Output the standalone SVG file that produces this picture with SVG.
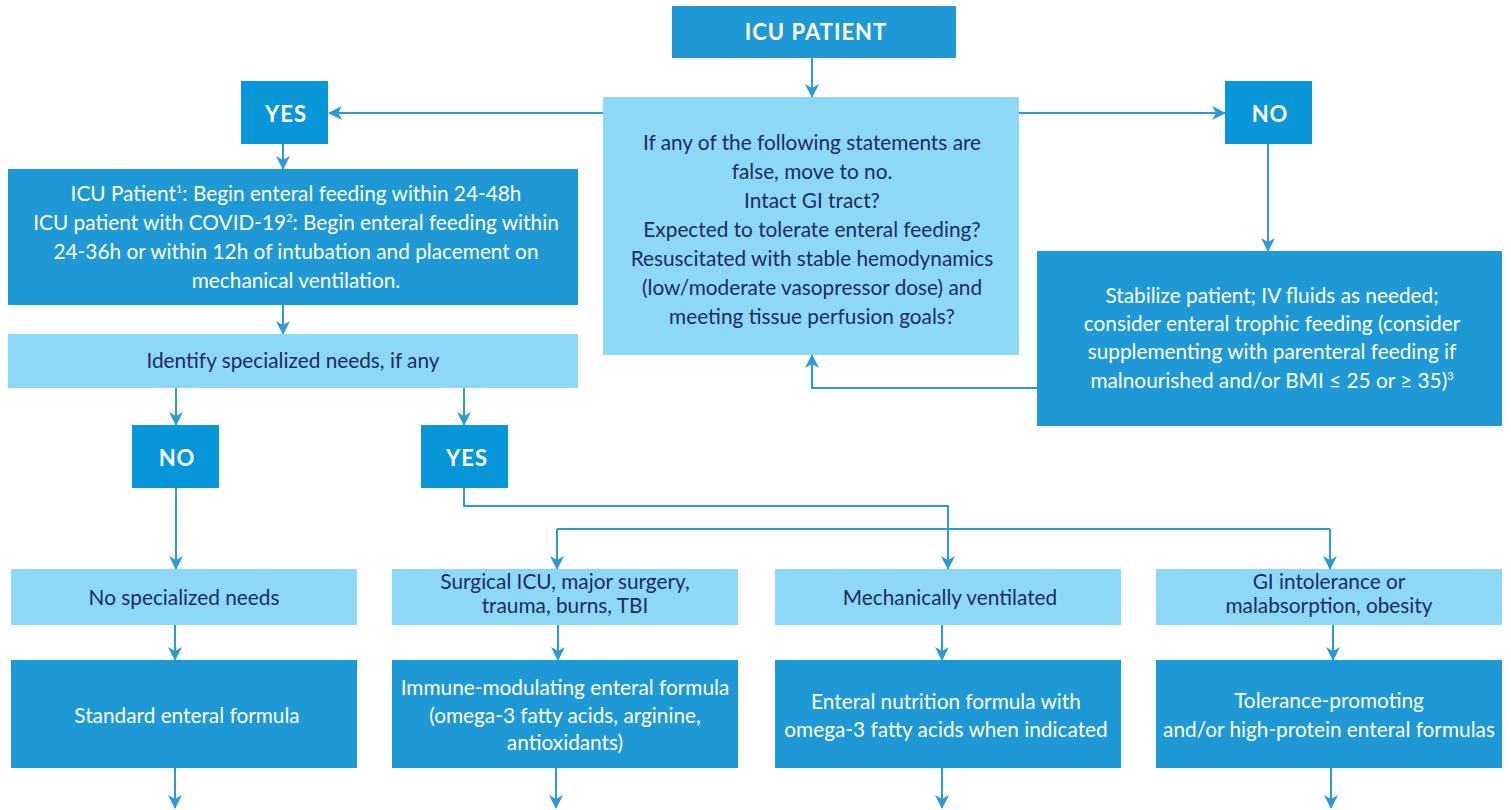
<svg xmlns="http://www.w3.org/2000/svg" width="1511" height="810" viewBox="0 0 1511 810">
<defs>
<style>
.dk{fill:#1E99D6}
.yn{fill:#0796D8}
.lt{fill:#8ED8F7}
.tw{font-family:Lato,"Open Sans",sans-serif;font-size:20.8px;fill:#FFFFFF;text-anchor:middle}
.tn{font-family:Lato,"Open Sans",sans-serif;font-size:20.8px;fill:#1D2B5E;text-anchor:middle}
.hd{font-family:Lato,"Open Sans",sans-serif;font-size:22px;font-weight:bold;fill:#FFFFFF;text-anchor:middle;letter-spacing:1px}
.ln{fill:none;stroke:#2C9AD7;stroke-width:2;marker-end:url(#ah)}
.lp{fill:none;stroke:#2C9AD7;stroke-width:2}
</style>
<marker id="ah" viewBox="0 0 14 14" refX="13" refY="7" markerWidth="14" markerHeight="14" markerUnits="userSpaceOnUse" orient="auto">
<path d="M0,0 L14,7 L0,14 L4,7 z" fill="#2C9AD7"/>
</marker>
</defs>

<g id="connectors">
<path class="ln" d="M812,58 V97"/>
<path class="ln" d="M603,113 H329"/>
<path class="ln" d="M1019,113 H1225"/>
<path class="ln" d="M283,144 V169"/>
<path class="ln" d="M1268,144 V251"/>
<path class="ln" d="M1037,388 H812 V355"/>
<path class="ln" d="M283,305 V334"/>
<path class="ln" d="M176,388 V425"/>
<path class="ln" d="M464,388 V425"/>
<path class="ln" d="M176,488 V569"/>
<path class="ln" d="M464,488 V506 H948 V569"/>
<path class="lp" d="M557,529 H1330"/>
<path class="ln" d="M557,529 V569"/>
<path class="ln" d="M1330,529 V569"/>
<path class="ln" d="M175,625 V660"/>
<path class="ln" d="M558,625 V660"/>
<path class="ln" d="M942,625 V660"/>
<path class="ln" d="M1333,625 V660"/>
<path class="ln" d="M175,768 V808"/>
<path class="ln" d="M556,768 V808"/>
<path class="ln" d="M942,768 V808"/>
<path class="ln" d="M1331,768 V808"/>
</g>

<g id="icu-patient">
<rect class="dk" x="672" y="6" width="284" height="52"/>
<text class="hd" x="816" y="40">ICU PATIENT</text>
</g>

<g id="criteria">
<rect class="lt" x="603" y="97" width="416" height="258"/>
<text class="tn" x="812" y="150">If any of the following statements are</text>
<text class="tn" x="812" y="179">false, move to no.</text>
<text class="tn" x="812" y="208">Intact GI tract?</text>
<text class="tn" x="812" y="237">Expected to tolerate enteral feeding?</text>
<text class="tn" x="812" y="266">Resuscitated with stable hemodynamics</text>
<text class="tn" x="812" y="295">(low/moderate vasopressor dose) and</text>
<text class="tn" x="812" y="324">meeting tissue perfusion goals?</text>
</g>

<g id="yes-top">
<rect class="yn" x="241" y="81" width="87" height="63"/>
<text class="hd" x="286" y="122">YES</text>
</g>

<g id="no-top">
<rect class="yn" x="1225" y="81" width="87" height="63"/>
<text class="hd" x="1270" y="122">NO</text>
</g>

<g id="begin-feeding">
<rect class="dk" x="8" y="169" width="570" height="136"/>
<text class="tw" x="296" y="201">ICU Patient<tspan font-size="11" dy="-8">1</tspan><tspan dy="8">: Begin enteral feeding within 24-48h</tspan></text>
<text class="tw" x="296" y="230">ICU patient with COVID-19<tspan font-size="11" dy="-8">2</tspan><tspan dy="8">: Begin enteral feeding within</tspan></text>
<text class="tw" x="296" y="259">24-36h or within 12h of intubation and placement on</text>
<text class="tw" x="296" y="288">mechanical ventilation.</text>
</g>

<g id="stabilize">
<rect class="dk" x="1037" y="251" width="465" height="175"/>
<text class="tw" x="1272" y="303">Stabilize patient; IV fluids as needed;</text>
<text class="tw" x="1272" y="331">consider enteral trophic feeding (consider</text>
<text class="tw" x="1272" y="359">supplementing with parenteral feeding if</text>
<text class="tw" x="1272" y="388">malnourished and/or BMI ≤ 25 or ≥ 35)<tspan font-size="11" dy="-8">3</tspan></text>
</g>

<g id="identify">
<rect class="lt" x="8" y="334" width="570" height="54"/>
<text class="tn" x="293" y="368">Identify specialized needs, if any</text>
</g>

<g id="no-bottom">
<rect class="yn" x="132" y="425" width="87" height="63"/>
<text class="hd" x="177" y="466">NO</text>
</g>

<g id="yes-bottom">
<rect class="yn" x="421" y="425" width="87" height="63"/>
<text class="hd" x="467" y="466">YES</text>
</g>

<g id="no-special">
<rect class="lt" x="11" y="569" width="346" height="56"/>
<text class="tn" x="184" y="605">No specialized needs</text>
</g>

<g id="surgical">
<rect class="lt" x="392" y="569" width="346" height="56"/>
<text class="tn" x="565" y="589">Surgical ICU, major surgery,</text>
<text class="tn" x="565" y="613">trauma, burns, TBI</text>
</g>

<g id="mech-vent">
<rect class="lt" x="775" y="569" width="346" height="56"/>
<text class="tn" x="950" y="605">Mechanically ventilated</text>
</g>

<g id="gi-intol">
<rect class="lt" x="1156" y="569" width="346" height="56"/>
<text class="tn" x="1329" y="589">GI intolerance or</text>
<text class="tn" x="1329" y="613">malabsorption, obesity</text>
</g>

<g id="standard">
<rect class="dk" x="11" y="660" width="346" height="108"/>
<text class="tw" x="187" y="723">Standard enteral formula</text>
</g>

<g id="immune">
<rect class="dk" x="392" y="660" width="346" height="108"/>
<text class="tw" x="565" y="695">Immune-modulating enteral formula</text>
<text class="tw" x="565" y="723">(omega-3 fatty acids, arginine,</text>
<text class="tw" x="565" y="750">antioxidants)</text>
</g>

<g id="omega">
<rect class="dk" x="775" y="660" width="346" height="108"/>
<text class="tw" x="946" y="709">Enteral nutrition formula with</text>
<text class="tw" x="946" y="737">omega-3 fatty acids when indicated</text>
</g>

<g id="tolerance">
<rect class="dk" x="1156" y="660" width="346" height="108"/>
<text class="tw" x="1329" y="708">Tolerance-promoting</text>
<text class="tw" x="1329" y="737">and/or high-protein enteral formulas</text>
</g>
</svg>
